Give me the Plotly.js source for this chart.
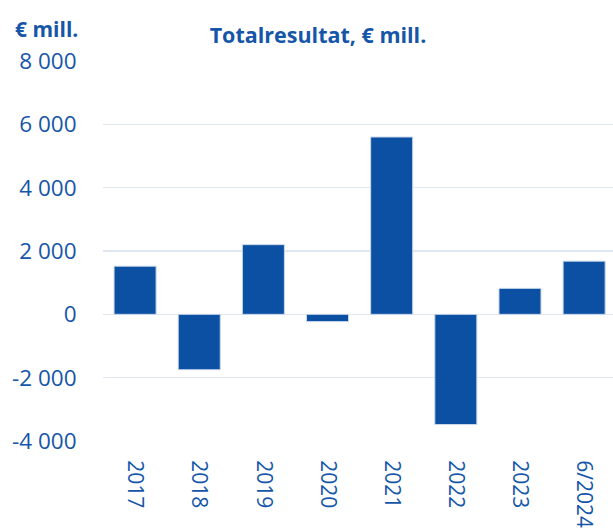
<!DOCTYPE html>
<html>
<head>
<meta charset="utf-8">
<script src="https://cdn.plot.ly/plotly-3.0.1.min.js"></script>
<style>html,body{margin:0;padding:0;background:#fff;}#chart{width:613px;height:532px;}</style>
</head>
<body>
<div id="chart"></div>
<script>
var categories = ["2017", "2018", "2019", "2020", "2021", "2022", "2023", "6/2024"];
var values = [1520, -1750, 2200, -230, 5600, -3480, 820, 1680];
var yTickVals = [-4000, -2000, 0, 2000, 4000, 6000, 8000];
var yTickText = ["-4 000", "-2 000", "0", "2 000", "4 000", "6 000", "8 000"];

var blue = "#0b50a3";
var textBlue = "#1656a8";

var trace = {
  type: "bar",
  x: categories,
  y: values,
  marker: {color: blue, line: {color: "#c9d7ea", width: 1}},
  hoverinfo: "x+y"
};

var layout = {
  width: 613,
  height: 532,
  margin: {l: 102.5, r: 0, t: 60.5, b: 91.3, pad: 0},
  paper_bgcolor: "#ffffff",
  plot_bgcolor: "#ffffff",
  showlegend: false,
  bargap: 0.345,
  font: {family: "Open Sans, Noto Sans, sans-serif", color: textBlue},
  title: {
    text: "<b>Totalresultat, € mill.</b>",
    font: {family: "Open Sans, Noto Sans, sans-serif", size: 21.5, color: textBlue},
    x: 318 / 613, xref: "container", xanchor: "center",
    y: 1 - 35 / 532, yref: "container", yanchor: "middle"
  },
  xaxis: {
    type: "category",
    range: [-0.5, 7.45],
    tickangle: 90,
    tickfont: {size: 21, color: textBlue},
    showgrid: false,
    zeroline: false,
    showline: false,
    ticks: "outside",
    ticklen: 14,
    tickcolor: "rgba(0,0,0,0)",
    fixedrange: true
  },
  yaxis: {
    range: [-4000, 8000],
    tickvals: yTickVals,
    ticktext: yTickText,
    tickfont: {size: 22.5, color: textBlue},
    showgrid: true,
    gridcolor: "#e1e7ef",
    gridwidth: 1.3,
    zeroline: true,
    zerolinecolor: "#e1e7ef",
    zerolinewidth: 1.3,
    showline: false,
    ticks: "outside",
    ticklen: 21,
    tickcolor: "rgba(0,0,0,0)",
    fixedrange: true
  },
  annotations: [{
    text: "<b>€ mill.</b>",
    xref: "paper", yref: "paper",
    x: -90 / 510.5, y: 1 + (60.5 - 28) / 380.2,
    xanchor: "left", yanchor: "middle",
    showarrow: false,
    font: {family: "Open Sans, Noto Sans, sans-serif", size: 21, color: textBlue}
  }]
};

Plotly.newPlot("chart", [trace], layout, {displayModeBar: false, staticPlot: true});
</script>
</body>
</html>
